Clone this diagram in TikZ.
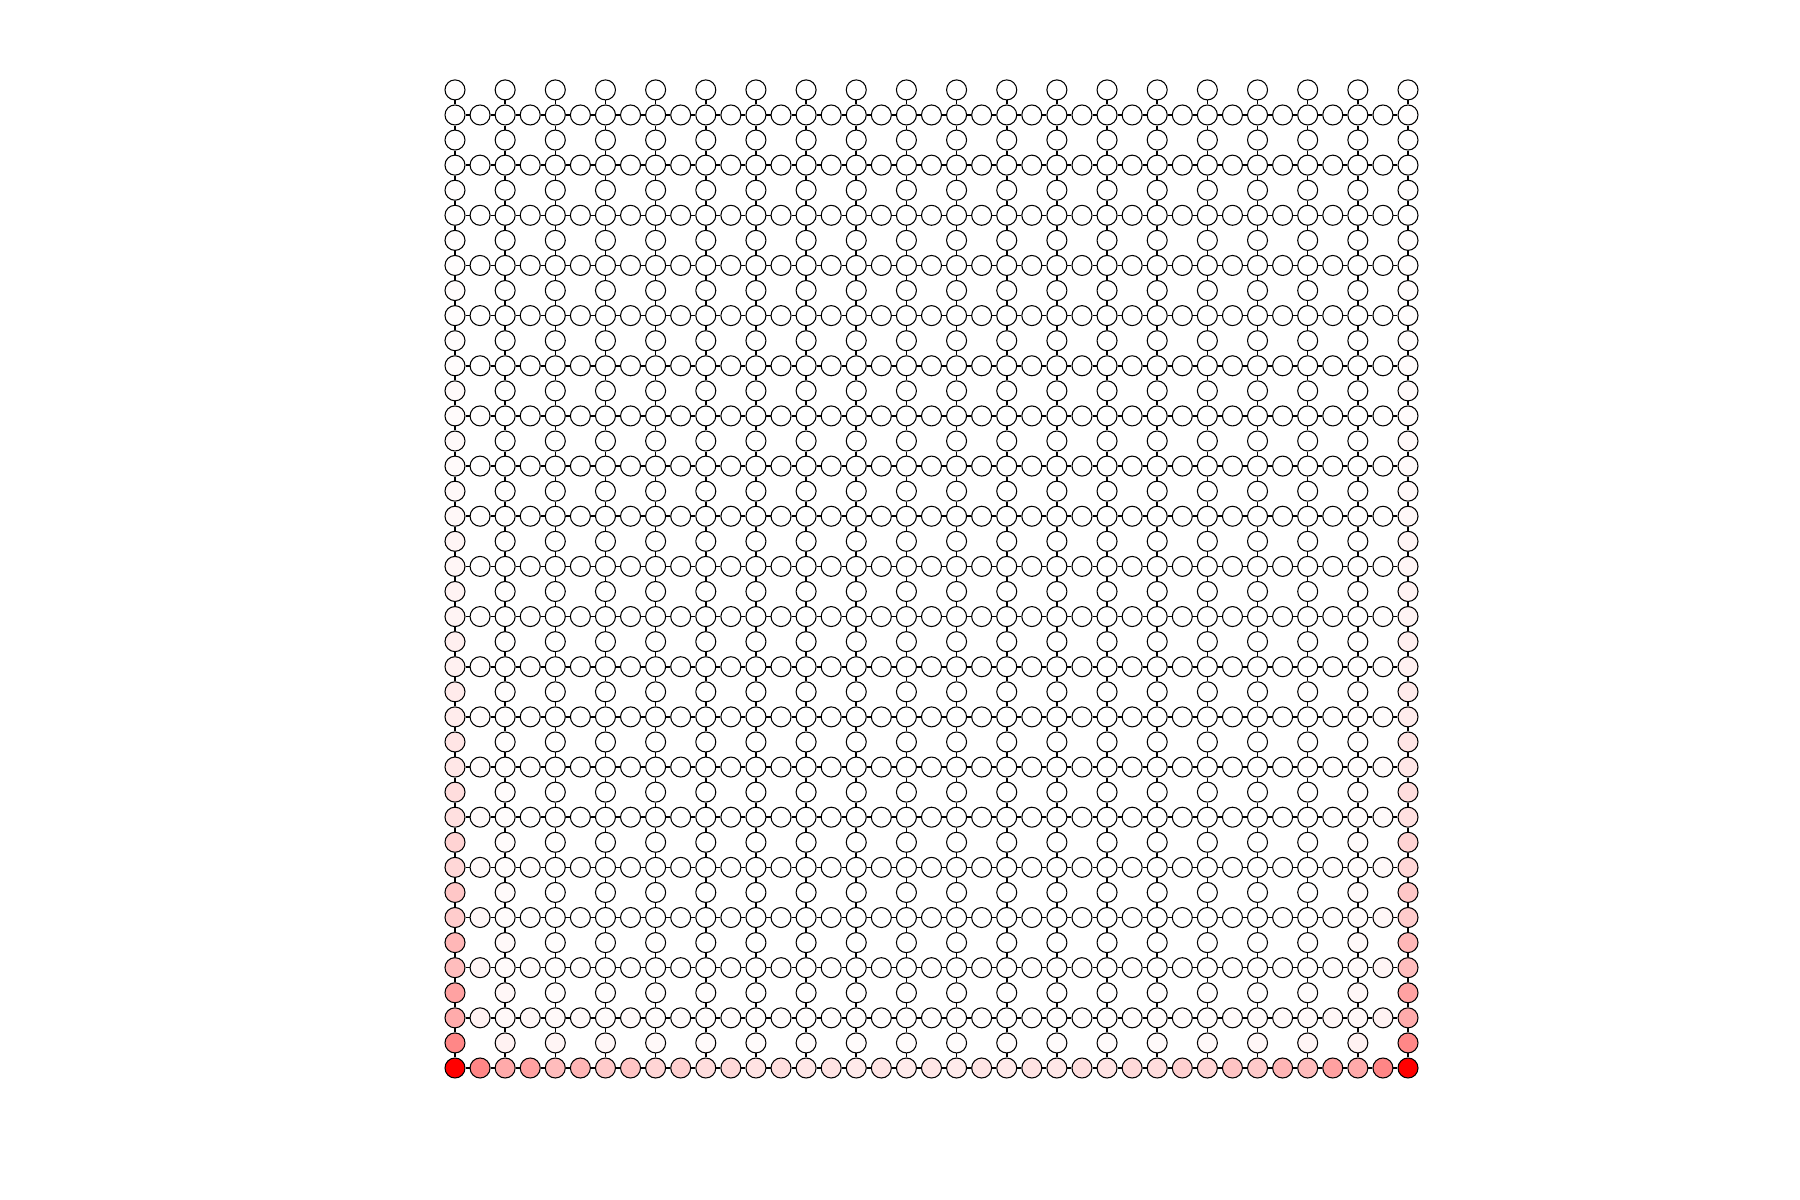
\documentclass[tikz,border=0pt]{standalone}
\usepackage{xcolor}
\usepackage{tikz}
\tikzset{
  site/.style={circle,draw=black,line width=0.3pt,minimum size=2mm,inner sep=0pt,fill=white},
  link/.style={draw=black,line width=0.45pt},
  declare function={
    fedge(\d)=(\d==0)?1:0.425*exp(-0.126*\d)*(1+0.25*mod(\d,2));
    goff(\o)=(\o==0)?1:0.15*exp(-0.6*min(\o-1,12));
  }
}
\newcommand{\gs}{0.2508}

\begin{document}
\begin{tikzpicture}
  \useasboundingbox (-4.55,-1.32) rectangle (13.45,10.68);

  % full rows: main and half columns
  \foreach \row in {0,2,...,38}{
    \foreach \col in {0,...,38}{
      \pgfmathsetmacro\heat{min(100,100*(max(fedge(\col)*goff(\row),fedge(\row)*goff(\col))+max(fedge(38-\col)*goff(\row),fedge(\row)*goff(38-\col))))}
      \node[site,fill=red!\heat!white] (n-\col-\row) at ({\col*\gs},{\row*\gs}) {};
    }
  }
  % half rows: main columns only
  \foreach \row in {1,3,...,39}{
    \foreach \col in {0,2,...,38}{
      \pgfmathsetmacro\heat{min(100,100*(max(fedge(\col)*goff(\row),fedge(\row)*goff(\col))+max(fedge(38-\col)*goff(\row),fedge(\row)*goff(38-\col))))}
      \node[site,fill=red!\heat!white] (n-\col-\row) at ({\col*\gs},{\row*\gs}) {};
    }
  }

  % vertical links
  \foreach \col in {0,2,...,38}{
    \foreach \row in {0,...,38}{
      \pgfmathtruncatemacro\up{\row+1}
      \draw[link] (n-\col-\row) -- (n-\col-\up);
    }
  }
  % horizontal links
  \foreach \row in {0,2,...,38}{
    \foreach \col in {0,...,37}{
      \pgfmathtruncatemacro\nx{\col+1}
      \draw[link] (n-\col-\row) -- (n-\nx-\row);
    }
  }
\end{tikzpicture}
\end{document}
